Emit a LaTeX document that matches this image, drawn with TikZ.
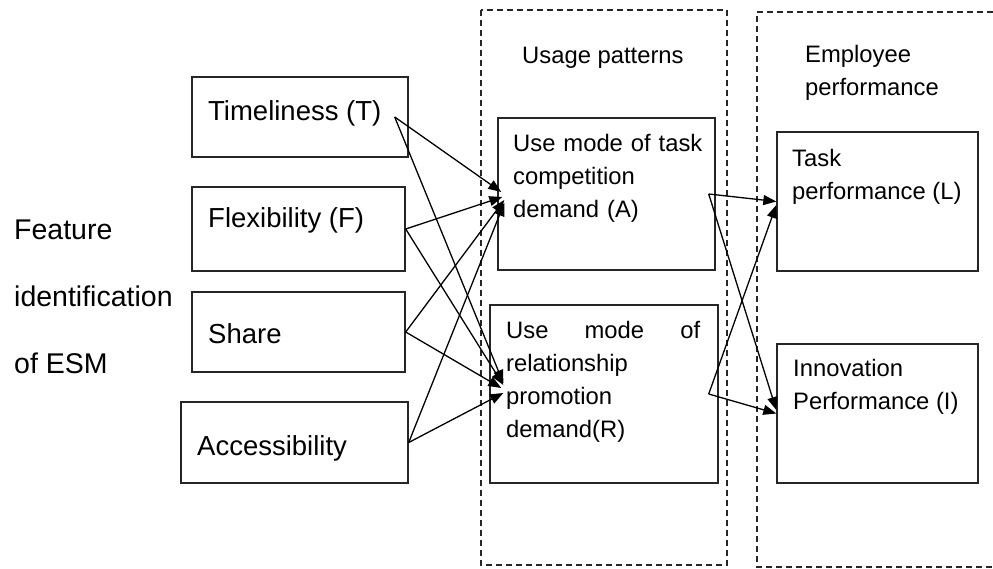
\documentclass[tikz,border=0pt]{standalone}
\usepackage{fontspec}
\setmainfont{Liberation Sans}
\usetikzlibrary{arrows.meta}

\tikzset{
  box/.style={draw=black!85,line width=1.4bp,inner sep=0pt},
  grp/.style={draw=black!85,line width=1.2bp,dash pattern=on 6bp off 4bp},
  flow/.style={-{Triangle[length=13bp,width=10bp]},line width=1.3bp},
  lefttxt/.style={font=\fontsize{27.5bp}{33bp}\selectfont,inner sep=0pt},
  boxtxt/.style={font=\fontsize{23.8bp}{33bp}\selectfont,inner sep=0pt,align=left},
}

\begin{document}
\begin{tikzpicture}

\useasboundingbox (0bp,0bp) rectangle (993bp,-569bp);

% dashed groups
\draw [grp] (481bp,-10bp) rectangle (727bp,-565bp);
\draw [grp] (993bp,-12bp) -- (757bp,-12bp) -- (757bp,-567bp) -- (993bp,-567bp);

\node (Feat) at (14bp,-219.5bp)[anchor=north west,inner sep=0pt,align=left,font=\fontsize{28.5bp}{67bp}\selectfont] {Feature\\identification\\of ESM};

% features
\node (T) at (300bp,-117bp)[box,minimum width=216bp,minimum height=80bp] {};
\node (F) at (298.5bp,-229bp)[box,minimum width=213bp,minimum height=84bp] {};
\node (S) at (298.5bp,-332bp)[box,minimum width=213bp,minimum height=80bp] {};
\node (Acc) at (294.5bp,-442.5bp)[box,minimum width=227bp,minimum height=81bp] {};
\node (Tt) at (208bp,-120bp)[lefttxt,anchor=base west] {Timeliness (T)};
\node (Ft) at (208bp,-227bp)[lefttxt,anchor=base west] {Flexibility (F)};
\node (St) at (208bp,-343bp)[lefttxt,anchor=base west] {Share};
\node (Acct) at (197bp,-455bp)[lefttxt,anchor=base west] {Accessibility};

% usage patterns
\node (Ut) at (522bp,-63bp)[boxtxt,anchor=base west] {Usage patterns};
\node (A) at (606.5bp,-194bp)[box,minimum width=217bp,minimum height=152bp] {};
\node (R) at (604bp,-394bp)[box,minimum width=228bp,minimum height=178bp] {};
\node (At) at (513bp,-134.5bp)[boxtxt,anchor=north west,text width=200bp] {Use mode of task\\competition\\demand (A)};
\node (Rt) at (506bp,-321.5bp)[boxtxt,anchor=north west,text width=194bp] {Use\hfill mode\hfill of\\relationship\\promotion\\demand(R)};

% employee performance
\node (Et) at (805bp,-45.5bp)[boxtxt,anchor=north west] {Employee\\performance};
\node (L) at (877.5bp,-201.5bp)[box,minimum width=201bp,minimum height=139bp] {};
\node (I) at (877.5bp,-413.5bp)[box,minimum width=201bp,minimum height=139bp] {};
\node (Lt) at (792bp,-149.5bp)[boxtxt,anchor=north west] {Task\\performance (L)};
\node (It) at (793bp,-359.5bp)[boxtxt,anchor=north west] {Innovation\\Performance (I)};

\draw [flow] ([xshift=-14bp]T.east) -- ([xshift=4bp,yshift=2bp]A.west);
\draw [flow] ([xshift=-14bp]T.east) -- ([xshift=14bp,yshift=11bp]R.west);
\draw [flow] (F.east) -- ([xshift=5bp,yshift=-3bp]A.west);
\draw [flow] (F.east) -- ([xshift=14bp,yshift=9bp]R.west);
\draw [flow] (S.east) -- ([xshift=7bp,yshift=-6bp]A.west);
\draw [flow] (S.east) -- ([xshift=12bp,yshift=6bp]R.west);
\draw [flow] (Acc.east) -- ([xshift=7bp,yshift=-9bp]A.west);
\draw [flow] (Acc.east) -- ([xshift=14bp,yshift=1bp]R.west);
\draw [flow] ([xshift=-7bp]A.east) -- (L.west);
\draw [flow] ([xshift=-7bp]A.east) -- ([yshift=3.5bp]I.west);
\draw [flow] ([xshift=-10bp]R.east) -- ([yshift=-3.5bp]L.west);
\draw [flow] ([xshift=-10bp]R.east) -- (I.west);
\end{tikzpicture}
\end{document}
